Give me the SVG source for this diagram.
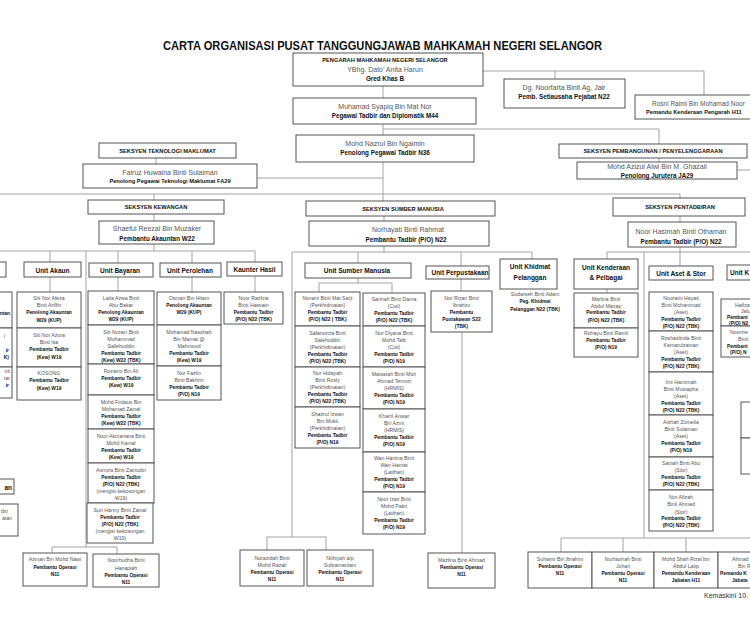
<svg xmlns="http://www.w3.org/2000/svg" width="750" height="620" viewBox="0 0 750 620">
<style>
text{font-family:"Liberation Sans",Arial,sans-serif;text-anchor:middle;dominant-baseline:central}
.b{fill:#fff;stroke:#555;stroke-width:1}
.c{fill:none;stroke:#a3a3a3;stroke-width:1}
.ttl{font-size:13px;font-weight:bold;fill:#111}
.n{font-size:5.2px;fill:#555}
.p{font-size:4.9px;font-weight:bold;fill:#111}
.u{font-size:6.5px;font-weight:bold;fill:#111}
.s{font-size:5.7px;font-weight:bold;fill:#111}
.hn{font-size:7px;fill:#555}
.hp{font-size:6.3px;font-weight:bold;fill:#111}
.st{text-anchor:start}
.en{text-anchor:end}
.km{font-size:7px;fill:#333}
</style>
<rect width="750" height="620" fill="#fff"/>
<text class="ttl" x="382.5" y="45" textLength="439" lengthAdjust="spacingAndGlyphs">CARTA ORGANISASI PUSAT TANGGUNGJAWAB MAHKAMAH NEGERI SELANGOR</text>

<g id="connectors">
<path class="c" d="M383,86V98M383,124V135M383,162V201M483,71H704V95M555,71V79M383,129H659V144M659,158V162M257,178H383M156,158V164M737,170H750"/>
<path class="c" d="M0,194H680V198M154,194V200M680,216V222M680,247V266M154,214V221M154,244V251"/>
<path class="c" d="M0,251H255V262M50,251V262M50,277V292M118,251V263M118,277V291M192,251V263M192,277V292M255,276V292M86,251V547M52,547H117M52,547V553M117,547V554"/>
<path class="c" d="M384,216V221M384,246V252M292,252H532V259M292,252V537M267,537H326M267,537V550M326,537V550M358,252V263M358,278V283M319,283H392M319,283V292M392,283V293M461,252V266M461,279V291M462,332V553"/>
<path class="c" d="M607,252H750M607,252V259M607,289V293M644,252V538M561,538H750M561,538V552M623,538V552M686,538V552"/>
</g>

<g id="pengarah"><rect class="b" x="293" y="53" width="190" height="33"/>
<text class="s" x="385" y="60">PENGARAH MAHKAMAH NEGERI SELANGOR</text><text class="hn" x="385" y="69">YBhg. Dato’ Anita Harun</text><text class="hp" x="385" y="78">Gred Khas B</text></g>
<g id="muhamad"><rect class="b" x="293" y="98" width="183" height="26"/>
<text class="hn" x="385" y="106">Muhamad Syapiq Bin Mat Nor</text><text class="hp" x="385" y="115">Pegawai Tadbir dan Diplomatik M44</text></g>
<g id="nazrul"><rect class="b" x="296" y="135" width="178" height="27"/>
<text class="hn" x="385" y="143">Mohd Nazrul Bin Ngaimin</text><text class="hp" x="385" y="152">Penolong Pegawai Tadbir N36</text></g>
<g id="dg"><rect class="b" x="504" y="79" width="121" height="29"/>
<text class="hn" x="564" y="87">Dg. Noorfarta Binti Ag. Jair</text><text class="hp" x="564" y="96">Pemb. Setiausaha Pejabat N22</text></g>
<g id="rosni"><rect class="b" x="635" y="95" width="140" height="24"/>
<text class="hn st" x="652" y="103" style="font-size:6.5px">Rosni Raimi Bin Mohamad Noor</text><text class="hp st" x="646" y="112" style="font-size:5.7px">Pemandu Kenderaan Pengarah H11</text></g>

<g id="seksyen-tm"><rect class="b" x="99" y="143" width="137" height="15"/><text class="s" x="167.5" y="150.5">SEKSYEN TEKNOLOGI MAKLUMAT</text></g>
<g id="fairuz"><rect class="b" x="83" y="164" width="174" height="24"/>
<text class="hn" x="170" y="172">Fairuz Huwaina Binti Sulaiman</text><text class="hp" x="170" y="181" style="font-size:5.7px">Penolong Pegawai Teknologi Maklumat FA29</text></g>
<g id="seksyen-pp"><rect class="b" x="559" y="144" width="188" height="14"/><text class="s" x="653" y="151">SEKSYEN PEMBANGUNAN / PENYELENGGARAAN</text></g>
<g id="azizul"><rect class="b" x="577" y="162" width="160" height="17"/>
<text class="hn" x="657" y="166.5">Mohd Azizul Alwi Bin M. Ghazali</text><text class="hp" x="657" y="175">Penolong Jurutera JA29</text></g>

<g id="seksyen-kew"><rect class="b" x="88" y="200" width="136" height="14"/><text class="s" x="156" y="207">SEKSYEN KEWANGAN</text></g>
<g id="shaeful"><rect class="b" x="99" y="221" width="115" height="23"/>
<text class="hn" x="157" y="228">Shaeful Reezal Bin Muzaker</text><text class="hp" x="157" y="238">Pembantu Akauntan W22</text></g>
<g id="seksyen-sm"><rect class="b" x="306" y="201" width="189" height="15"/><text class="s" x="403" y="208.5">SEKSYEN SUMBER MANUSIA</text></g>
<g id="norhayati"><rect class="b" x="309" y="221" width="180" height="25"/>
<text class="hn" x="408" y="229">Norhayati Binti Rahmat</text><text class="hp" x="406" y="239">Pembantu Tadbir (P/O) N22</text></g>
<g id="seksyen-pt"><rect class="b" x="613" y="198" width="132" height="18"/><text class="s" x="680" y="206.5">SEKSYEN PENTADBIRAN</text></g>
<g id="hasimah"><rect class="b" x="628" y="222" width="108" height="25"/>
<text class="hn" x="681" y="231">Noor Hasimah Binti Othaman</text><text class="hp" x="681" y="241">Pembantu Tadbir (P/O) N22</text></g>

<g id="unit-left"><rect class="b" x="-40" y="262" width="46" height="15"/></g>
<g id="left-1"><rect class="b" x="-50" y="292" width="62" height="36"/><text class="p en" x="10" y="313">ntan</text></g>
<g id="left-2"><rect class="b" x="-50" y="328" width="62" height="39"/><text class="n en" x="5" y="336">i</text><text class="p en" x="9" y="350">ir</text><text class="p en" x="9" y="357">K)</text></g>
<g id="left-3"><rect class="b" x="-50" y="367" width="62" height="31"/><text class="n en" x="10" y="371">nti</text><text class="n en" x="10" y="378">tar</text><text class="p en" x="9" y="385">ir</text></g>
<g id="unit-left2"><rect class="b" x="-40" y="479" width="54" height="15"/><text class="u en" x="12" y="487">an</text></g>
<g id="left-4"><rect class="b" x="-50" y="504" width="68" height="32"/><text class="n en" x="8" y="511">din</text><text class="n en" x="12" y="518">atan</text></g>

<g id="unit-akaun"><rect class="b" x="24" y="262" width="57" height="15"/><text class="u" x="52.5" y="270">Unit Akaun</text></g>
<g id="afeza"><rect class="b" x="17" y="292" width="64" height="36"/><text class="n" x="49" y="298">Siti Nor Afeza</text><text class="n" x="49" y="305">Binti Ariffin</text><text class="p" x="49" y="312">Penolong Akauntan</text><text class="p" x="49" y="320">W29 (KUP)</text></g>
<g id="azura"><rect class="b" x="17" y="328" width="64" height="39"/><text class="n" x="49" y="335">Siti Nor Azura</text><text class="n" x="49" y="342">Binti Isa</text><text class="p" x="49" y="349.5">Pembantu Tadbir</text><text class="p" x="49" y="357">(Kew) W19</text></g>
<g id="kosong"><rect class="b" x="17" y="367" width="64" height="33"/><text class="n" x="49" y="373">KOSONG</text><text class="p" x="49" y="380.5">Pembantu Tadbir</text><text class="p" x="49" y="388">(Kew) W19</text></g>

<g id="unit-bayaran"><rect class="b" x="89" y="263" width="64" height="14"/><text class="u" x="120" y="270.5">Unit Bayaran</text></g>
<g id="laila"><rect class="b" x="88" y="291" width="66" height="34"/><text class="n" x="121" y="298">Laila Azwa Binti</text><text class="n" x="121" y="305">Abu Bakar</text><text class="p" x="121" y="312">Penolong Akauntan</text><text class="p" x="121" y="319.5">W29 (KUP)</text></g>
<g id="nurain"><rect class="b" x="88" y="325" width="66" height="39"/><text class="n" x="121" y="332">Siti Nurain Binti</text><text class="n" x="121" y="339">Muhammad</text><text class="n" x="121" y="346">Sallehuddin</text><text class="p" x="121" y="353">Pembantu Tadbir</text><text class="p" x="121" y="360">(Kew) W22 (TBK)</text></g>
<g id="rozaimi"><rect class="b" x="88" y="364" width="66" height="31"/><text class="n" x="121" y="371">Rozaimi Bin Ali</text><text class="p" x="121" y="378">Pembantu Tadbir</text><text class="p" x="121" y="385">(Kew) W19</text></g>
<g id="firdaus"><rect class="b" x="88" y="395" width="66" height="34"/><text class="n" x="121" y="402">Mohd Firdaus Bin</text><text class="n" x="121" y="409">Mohamad Zainal</text><text class="p" x="121" y="416">Pembantu Tadbir</text><text class="p" x="121" y="423">(Kew) W22 (TBK)</text></g>
<g id="akmariana"><rect class="b" x="88" y="429" width="66" height="34"/><text class="n" x="121" y="436">Noor Akmariana Binti</text><text class="n" x="121" y="443">Mohd Kamal</text><text class="p" x="121" y="450">Pembantu Tadbir</text><text class="p" x="121" y="457">(Kew) W19</text></g>
<g id="asmiza"><rect class="b" x="88" y="463" width="66" height="40"/><text class="n" x="121" y="470">Asmiza Binti Zainudin</text><text class="p" x="121" y="477">Pembantu Tadbir</text><text class="p" x="121" y="484">(P/O) N22 (TBK)</text><text class="n" x="121" y="491">(mengisi kekosongan</text><text class="n" x="121" y="498">W19)</text></g>
<g id="suri"><rect class="b" x="87" y="503" width="66" height="40"/><text class="n" x="120" y="510">Suri Hanny Binti Zainal</text><text class="p" x="120" y="517">Pembantu Tadbir</text><text class="p" x="120" y="524">(P/O) N22 (TBK)</text><text class="n" x="120" y="531">(mengisi kekosongan</text><text class="n" x="120" y="538">W19)</text></g>

<g id="unit-perolehan"><rect class="b" x="160" y="263" width="61" height="14"/><text class="u" x="190" y="270.5">Unit Perolehan</text></g>
<g id="osman"><rect class="b" x="157" y="292" width="64" height="33"/><text class="n" x="189" y="298">Osman Bin Hitam</text><text class="p" x="189" y="305">Penolong Akauntan</text><text class="p" x="189" y="312">W29 (KUP)</text></g>
<g id="nasohah"><rect class="b" x="157" y="325" width="64" height="41"/><text class="n" x="189" y="332">Mohamad Nasohah</text><text class="n" x="189" y="339">Bin Mamat @</text><text class="n" x="189" y="346">Mahmood</text><text class="p" x="189" y="353">Pembantu Tadbir</text><text class="p" x="189" y="360">(Kew) W19</text></g>
<g id="fazlin"><rect class="b" x="157" y="366" width="64" height="34"/><text class="n" x="189" y="373">Nur Fazlin</text><text class="n" x="189" y="380">Binti Bakhrin</text><text class="p" x="189" y="387">Pembantu Tadbir</text><text class="p" x="189" y="394">(P/O) N19</text></g>

<g id="unit-kaunter"><rect class="b" x="227" y="262" width="55" height="14"/><text class="u" x="254.5" y="269">Kaunter Hasil</text></g>
<g id="razlina"><rect class="b" x="224" y="292" width="59" height="32"/><text class="n" x="253.5" y="298">Noor Razlina</text><text class="n" x="253.5" y="305">Binti Hassain</text><text class="p" x="253.5" y="312">Pembantu Tadbir</text><text class="p" x="253.5" y="319.5">(P/O) N22 (TBK)</text></g>

<g id="azman"><rect class="b" x="23" y="553" width="64" height="33"/><text class="n" x="55" y="559">Azman Bin Mohd Nawi</text><text class="p" x="55" y="567">Pembantu Operasi</text><text class="p" x="55" y="574">N11</text></g>
<g id="noorhudha"><rect class="b" x="93" y="554" width="66" height="33"/><text class="n" x="126" y="560">Noorhudha Binti</text><text class="n" x="126" y="567.5">Hanapiah</text><text class="p" x="126" y="575">Pembantu Operasi</text><text class="p" x="126" y="582">N11</text></g>

<g id="unit-sm"><rect class="b" x="305" y="263" width="106" height="15"/><text class="u" x="357" y="270.5">Unit Sumber Manusia</text></g>
<g id="noraini"><rect class="b" x="295" y="292" width="65" height="34"/><text class="n" x="327.5" y="298">Noraini Binti Mat Sarji</text><text class="n" x="327.5" y="305">(Perkhidmatan)</text><text class="p" x="327.5" y="312">Pembantu Tadbir</text><text class="p" x="327.5" y="319.5">(P/O) N22 ( TBK)</text></g>
<g id="safanoriza"><rect class="b" x="295" y="326" width="65" height="41"/><text class="n" x="327.5" y="333">Safanoriza Binti</text><text class="n" x="327.5" y="340">Salehuddin</text><text class="n" x="327.5" y="347">(Perkhidmatan)</text><text class="p" x="327.5" y="354">Pembantu Tadbir</text><text class="p" x="327.5" y="361">(P/O) N22 (TBK)</text></g>
<g id="hidayah"><rect class="b" x="295" y="367" width="65" height="40"/><text class="n" x="327.5" y="373">Nur Hidayah</text><text class="n" x="327.5" y="380">Binti Rosly</text><text class="n" x="327.5" y="387">(Perkhidmatan)</text><text class="p" x="327.5" y="394">Pembantu Tadbir</text><text class="p" x="327.5" y="401">(P/O) N22 (TBK)</text></g>
<g id="shazrul"><rect class="b" x="295" y="407" width="65" height="41"/><text class="n" x="327.5" y="413.5">Shazrul Izwan</text><text class="n" x="327.5" y="420.5">Bin Mukti</text><text class="n" x="327.5" y="427.5">(Perkhidmatan)</text><text class="p" x="327.5" y="435">Pembantu Tadbir</text><text class="p" x="327.5" y="442">(P/O) N19</text></g>
<g id="sarinah"><rect class="b" x="363" y="293" width="62" height="33"/><text class="n" x="394" y="299">Sarinah Binti Dama</text><text class="n" x="394" y="306">(Cuti)</text><text class="p" x="394" y="313">Pembantu Tadbir</text><text class="p" x="394" y="320">(P/O) N22 (TBK)</text></g>
<g id="diyana"><rect class="b" x="363" y="326" width="62" height="41"/><text class="n" x="394" y="333">Nur Diyana Binti</text><text class="n" x="394" y="340">Mohd Taib</text><text class="n" x="394" y="347">(Cuti)</text><text class="p" x="394" y="354">Pembantu Tadbir</text><text class="p" x="394" y="361">(P/O) N19</text></g>
<g id="maisarah"><rect class="b" x="363" y="367" width="62" height="42"/><text class="n" x="394" y="374">Maisarah Binti Mior</text><text class="n" x="394" y="381">Ahmad Termizi</text><text class="n" x="394" y="388">(HRMIS)</text><text class="p" x="394" y="395">Pembantu Tadbir</text><text class="p" x="394" y="402">(P/O) N19</text></g>
<g id="khairil"><rect class="b" x="363" y="409" width="62" height="43"/><text class="n" x="394" y="416">Khairil Anwar</text><text class="n" x="394" y="423">Bin Azmi</text><text class="n" x="394" y="430">(HRMIS)</text><text class="p" x="394" y="437">Pembantu Tadbir</text><text class="p" x="394" y="444.5">(P/O) N19</text></g>
<g id="hartina"><rect class="b" x="363" y="452" width="62" height="40"/><text class="n" x="394" y="458">Wan Hartina Binti</text><text class="n" x="394" y="465">Wan Hamat</text><text class="n" x="394" y="472">(Latihan)</text><text class="p" x="394" y="479">Pembantu Tadbir</text><text class="p" x="394" y="486">(P/O) N19</text></g>
<g id="izati"><rect class="b" x="363" y="492" width="62" height="42"/><text class="n" x="394" y="499">Noor Izati Binti</text><text class="n" x="394" y="506">Mohd Pakri</text><text class="n" x="394" y="513">(Latihan)</text><text class="p" x="394" y="520">Pembantu Tadbir</text><text class="p" x="394" y="527">(P/O) N19</text></g>

<g id="unit-perpustakaan"><rect class="b" x="426" y="266" width="63" height="13"/><text class="u" x="460" y="272.5">Unit Perpustakaan</text></g>
<g id="rizan"><rect class="b" x="431" y="291" width="61" height="41"/><text class="n" x="461.5" y="298">Nor Rizan Binti</text><text class="n" x="461.5" y="305">Ibrahim</text><text class="p" x="461.5" y="312">Pembantu</text><text class="p" x="461.5" y="319">Pustakawan S22</text><text class="p" x="461.5" y="326.5">(TBK)</text></g>
<g id="unit-khidmat"><rect class="b" x="500" y="259" width="57" height="30"/><text class="u" x="530" y="266.5">Unit Khidmat</text><text class="u" x="530" y="277">Pelanggan</text></g>
<g id="sudarseh"><text class="n" x="535" y="294">Sudarseh Binti Adam</text><text class="p" x="535" y="301.5">Peg. Khidmat</text><text class="p" x="535" y="309">Pelanggan N22 (TBK)</text></g>

<g id="norazidah"><rect class="b" x="240" y="550" width="64" height="36"/><text class="n" x="272" y="558">Norazidah Binti</text><text class="n" x="272" y="565">Mohd Razali</text><text class="p" x="272" y="572">Pembantu Operasi</text><text class="p" x="272" y="579">N11</text></g>
<g id="nithiyah"><rect class="b" x="307" y="550" width="66" height="36"/><text class="n" x="340" y="558">Nithiyah a/p</text><text class="n" x="340" y="565">Subramaniam</text><text class="p" x="340" y="572">Pembantu Operasi</text><text class="p" x="340" y="579">N11</text></g>
<g id="mazlina"><rect class="b" x="428" y="553" width="67" height="35"/><text class="n" x="461.5" y="559.5">Mazlina Binti Ahmad</text><text class="p" x="461.5" y="567">Pembantu Operasi</text><text class="p" x="461.5" y="574">N11</text></g>

<g id="unit-kenderaan"><rect class="b" x="574" y="259" width="64" height="30"/><text class="u" x="606" y="267">Unit Kenderaan</text><text class="u" x="606" y="277.5">&amp; Pelbagai</text></g>
<g id="marlina"><rect class="b" x="574" y="293" width="64" height="35"/><text class="n" x="606" y="298.5">Marlina Binti</text><text class="n" x="606" y="305.5">Abdul Manap</text><text class="p" x="606" y="312.5">Pembantu Tadbir</text><text class="p" x="606" y="320">(P/O) N22 (TBK)</text></g>
<g id="rohayu"><rect class="b" x="574" y="328" width="64" height="29"/><text class="n" x="606" y="333">Rohayu Binti Ramli</text><text class="p" x="606" y="340">Pembantu Tadbir</text><text class="p" x="606" y="347">(P/O) N19</text></g>

<g id="unit-aset"><rect class="b" x="649" y="266" width="64" height="14"/><text class="u" x="681" y="273">Unit Aset &amp; Stor</text></g>
<g id="nooraini"><rect class="b" x="649" y="292" width="64" height="39"/><text class="n" x="681" y="298">Nooraini Hayati</text><text class="n" x="681" y="305">Binti Mohammad</text><text class="n" x="681" y="312">(Aset)</text><text class="p" x="681" y="319">Pembantu Tadbir</text><text class="p" x="681" y="326">(P/O) N22 (TBK)</text></g>
<g id="roshaslinda"><rect class="b" x="649" y="331" width="64" height="41"/><text class="n" x="681" y="338">Roshaslinda Binti</text><text class="n" x="681" y="345">Kamarulzaman</text><text class="n" x="681" y="352">(Aset)</text><text class="p" x="681" y="359">Pembantu Tadbir</text><text class="p" x="681" y="366">(P/O) N22 (TBK)</text></g>
<g id="irni"><rect class="b" x="649" y="372" width="64" height="43"/><text class="n" x="681" y="382">Irni Hamimah</text><text class="n" x="681" y="389">Binti Mustapha</text><text class="n" x="681" y="396">(Aset)</text><text class="p" x="681" y="403">Pembantu Tadbir</text><text class="p" x="681" y="410">(P/O) N22 (TBK)</text></g>
<g id="aishah"><rect class="b" x="649" y="415" width="64" height="42"/><text class="n" x="681" y="422">Aishah Zumelia</text><text class="n" x="681" y="429">Binti Sulaiman</text><text class="n" x="681" y="436">(Aset)</text><text class="p" x="681" y="443.5">Pembantu Tadbir</text><text class="p" x="681" y="450.5">(P/O) N19</text></g>
<g id="saniah"><rect class="b" x="649" y="457" width="64" height="33"/><text class="n" x="681" y="463">Saniah Binti Abu</text><text class="n" x="681" y="470">(Stor)</text><text class="p" x="681" y="477">Pembantu Tadbir</text><text class="p" x="681" y="484">(P/O) N22 (TBK)</text></g>
<g id="afizah"><rect class="b" x="649" y="490" width="64" height="41"/><text class="n" x="681" y="497">Nor Afizah</text><text class="n" x="681" y="504">Binti Ahmad</text><text class="n" x="681" y="511.5">(Stor)</text><text class="p" x="681" y="518.5">Pembantu Tadbir</text><text class="p" x="681" y="525.5">(P/O) N22 (TBK)</text></g>

<g id="unit-k"><rect class="b" x="727" y="265" width="60" height="15"/><text class="u st" x="730" y="272.5">Unit K</text></g>
<g id="hafiza"><rect class="b" x="721" y="299" width="62" height="27"/><text class="n st" x="735" y="305">Hafiza</text><text class="n st" x="741" y="311">Jalu</text><text class="p st" x="727" y="317.5">Pembant</text><text class="p st" x="729" y="323.5">(P/O) N2</text></g>
<g id="noorzie"><rect class="b" x="721" y="326" width="62" height="31"/><text class="n st" x="730" y="332">Noorzie</text><text class="n st" x="738" y="339">Binti</text><text class="p st" x="727" y="346">Pembant</text><text class="p st" x="730" y="352.5">(P/O) N</text></g>
<g id="right-box"><rect class="b" x="741" y="402" width="40" height="36"/><rect class="b" x="741" y="438" width="40" height="36"/></g>

<g id="suhaimi"><rect class="b" x="528" y="552" width="64" height="36"/><text class="n" x="560" y="559">Suhaimi Bin Ibrahim</text><text class="p" x="560" y="566">Pembantu Operasi</text><text class="p" x="560" y="573.5">N11</text></g>
<g id="nurhazirah"><rect class="b" x="592" y="552" width="62" height="36"/><text class="n" x="623" y="559">Nurhazirah Binti</text><text class="n" x="623" y="566">Johari</text><text class="p" x="623" y="573">Pembantu Operasi</text><text class="p" x="623" y="580">N11</text></g>
<g id="shahrizal"><rect class="b" x="654" y="552" width="64" height="36"/><text class="n" x="686" y="559">Mohd Shah Rizal bin</text><text class="n" x="686" y="566">Abdul Latip</text><text class="p" x="686" y="573">Pemandu Kenderaan</text><text class="p" x="686" y="580">Jabatan H11</text></g>
<g id="ahmad"><rect class="b" x="718" y="552" width="64" height="36"/><text class="n st" x="732" y="559">Ahmad</text><text class="n st" x="738" y="566">Bin R</text><text class="p st" x="720" y="573">Pemandu K</text><text class="p st" x="732" y="580">Jabata</text></g>

<text class="km st" x="704" y="595">Kemaskini 10.</text>
</svg>
